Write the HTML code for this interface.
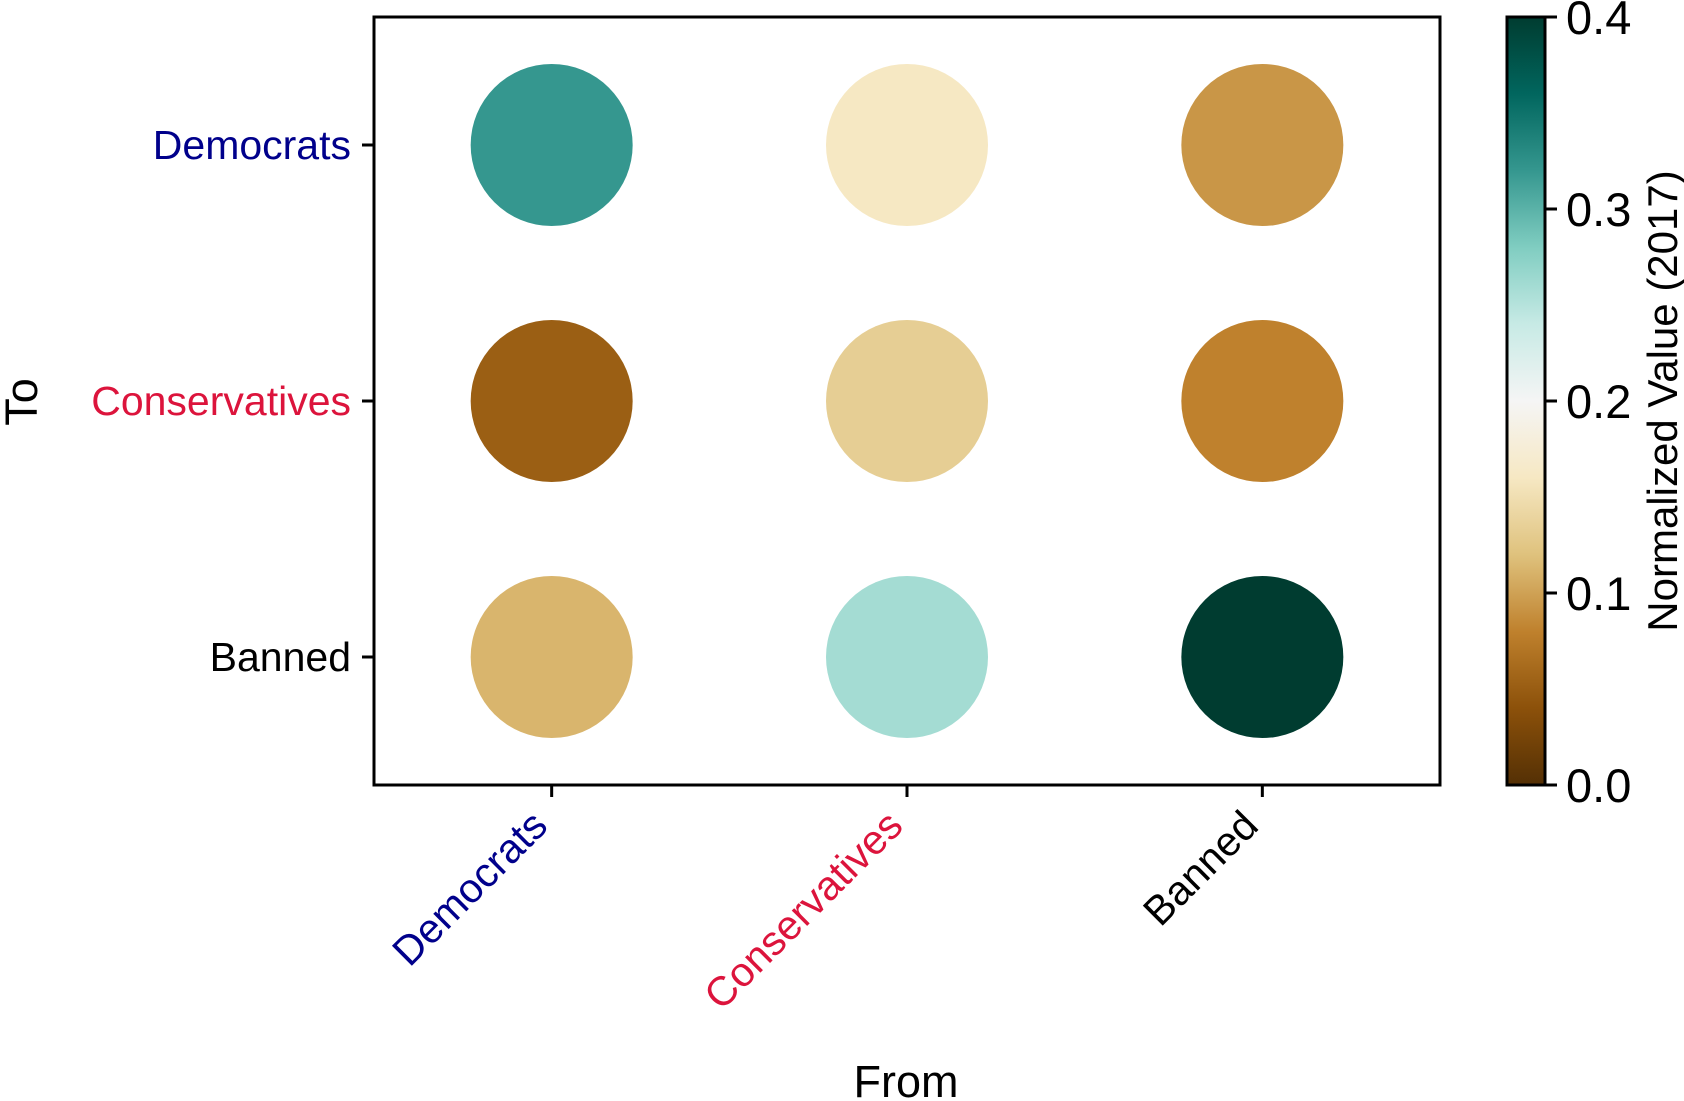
<!DOCTYPE html>
<html><head><meta charset="utf-8"><style>
html,body{margin:0;padding:0;background:#fff;}
svg{display:block;font-family:"Liberation Sans",Arial,sans-serif;}
</style></head><body>
<svg id="chart" width="1684" height="1101" viewBox="0 0 1684 1101" xmlns="http://www.w3.org/2000/svg">
<defs>
<linearGradient id="cbgrad" x1="0" y1="1" x2="0" y2="0">
<stop offset="0" stop-color="#543005"/><stop offset="0.1" stop-color="#8c510a"/><stop offset="0.2" stop-color="#bf812d"/><stop offset="0.3" stop-color="#dfc27d"/><stop offset="0.4" stop-color="#f6e8c3"/><stop offset="0.5" stop-color="#f5f5f5"/><stop offset="0.6" stop-color="#c7eae5"/><stop offset="0.7" stop-color="#80cdc1"/><stop offset="0.8" stop-color="#35978f"/><stop offset="0.9" stop-color="#01665e"/><stop offset="1" stop-color="#003c30"/>
</linearGradient>
</defs>
<g id="marks"></g>
<rect x="374" y="17" width="1066" height="768" fill="none" stroke="#000" stroke-width="3"/>
<g id="axes"></g>
<rect x="1507" y="17" width="38" height="768" fill="url(#cbgrad)" stroke="#000" stroke-width="3"/>
<g id="cbticks"></g>
<text x="906" y="1097" font-size="45" text-anchor="middle">From</text>
<text transform="translate(37,402) rotate(-90)" font-size="45" text-anchor="middle">To</text>
<text transform="translate(1677,401) rotate(-90)" font-size="42" text-anchor="middle">Normalized Value (2017)</text>
</svg>
<script>
const categories = ["Democrats","Conservatives","Banned"];
const catColors = ["#00008b","#dc143c","#000000"];
// rows = To (Democrats, Conservatives, Banned); cols = From
const rowDemocrats = [0.32, 0.16, 0.093];
const rowConservatives = [0.052, 0.133, 0.08];
const rowBanned = [0.112, 0.26, 0.40];
const cbTicks = [0.0, 0.1, 0.2, 0.3, 0.4];
const cbTickLabels = ["0.0","0.1","0.2","0.3","0.4"];
const vmin = 0, vmax = 0.4;

const NS = "http://www.w3.org/2000/svg";
const X0=374, X1=1440, Y0=17, Y1=785;
const xScale = i => X0 + (i + 0.5) * (X1 - X0) / 3;
const yScale = i => Y0 + (i + 0.5) * (Y1 - Y0) / 3;
const cbScale = v => Y1 - (v - vmin) / (vmax - vmin) * (Y1 - Y0);
const stops = ["#543005","#8c510a","#bf812d","#dfc27d","#f6e8c3","#f5f5f5","#c7eae5","#80cdc1","#35978f","#01665e","#003c30"];
function hex(h){return [1,3,5].map(k=>parseInt(h.substr(k,2),16));}
function cmap(v){
  let t=Math.max(0,Math.min(1,(v-vmin)/(vmax-vmin)))*10;
  let i=Math.min(9,Math.floor(t)), f=t-i;
  const a=hex(stops[i]), b=hex(stops[i+1]);
  return "rgb("+a.map((c,k)=>Math.round(c+(b[k]-c)*f)).join(",")+")";
}
function mk(tag, attrs){const e=document.createElementNS(NS,tag);for(const k in attrs)e.setAttribute(k,attrs[k]);return e;}
const rows=[rowDemocrats,rowConservatives,rowBanned];
const marks=document.getElementById("marks");
rows.forEach((row,r)=>row.forEach((v,c)=>{
  const el=mk("circle",{cx:xScale(c),cy:yScale(r),r:81,fill:cmap(v)});
  
  
  marks.appendChild(el);
}));
const axes=document.getElementById("axes");
categories.forEach((name,i)=>{
  const y=yScale(i);
  const t=mk("line",{x1:362,x2:374,y1:y,y2:y,stroke:"#000","stroke-width":3});
  
  
  axes.appendChild(t);
  const l=mk("text",{x:351,y:y+14,"font-size":41,"text-anchor":"end",fill:catColors[i]});
  
  
  l.textContent=name; axes.appendChild(l);
  const x=xScale(i);
  const tx=mk("line",{x1:x,x2:x,y1:785,y2:797,stroke:"#000","stroke-width":3});
  
  
  axes.appendChild(tx);
  const lx=mk("text",{transform:"translate("+(x-2)+",828) rotate(-45)","font-size":41,"text-anchor":"end",fill:catColors[i]});
  
  
  lx.textContent=name; axes.appendChild(lx);
});
const cbt=document.getElementById("cbticks");
cbTicks.forEach((v,i)=>{
  const y=cbScale(v);
  const t=mk("line",{x1:1545,x2:1557,y1:y,y2:y,stroke:"#000","stroke-width":3});
  
  
  cbt.appendChild(t);
  const l=mk("text",{x:1566,y:y+17,"font-size":47});
  
  
  l.textContent=cbTickLabels[i]; cbt.appendChild(l);
});
</script>
</body></html>
